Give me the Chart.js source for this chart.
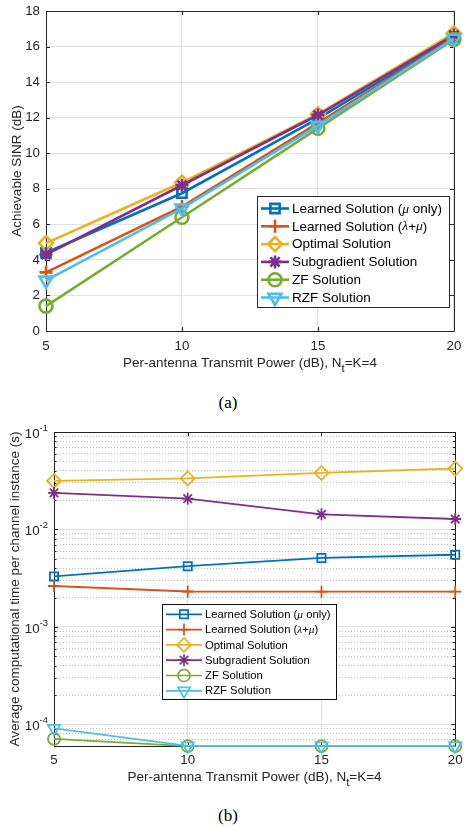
<!DOCTYPE html>
<html>
<head>
<meta charset="utf-8">
<script src="https://cdn.jsdelivr.net/npm/chart.js@4.4.0/dist/chart.umd.min.js"></script>
<style>
  body { margin: 0; background: #fff; width: 464px; height: 827px; position: relative; overflow: hidden; }
  canvas { position: absolute; left: 0; }
  #chartA { top: 0; }
  #chartB { top: 410px; }
  .cap { position: absolute; width: 464px; left: 0; text-align: center; font-family: "Liberation Serif", "Times New Roman", serif; font-size: 17px; color: #000; }
</style>
</head>
<body>
<canvas id="chartA" width="464" height="390"></canvas>
<div class="cap" style="top:393px; left:-4px;">(a)</div>
<canvas id="chartB" width="464" height="390"></canvas>
<div class="cap" style="top:806px; left:-4px;">(b)</div>
<script>
// x values shared by both panels
const powerDb = [5, 10, 15, 20];
const seriesNames = ['Learned Solution (\u03bc only)', 'Learned Solution (\u03bb+\u03bc)', 'Optimal Solution',
  'Subgradient Solution', 'ZF Solution', 'RZF Solution'];

// (a) achievable SINR in dB
const sinrLearnedMu = [4.4, 7.75, 11.95, 16.55];
const sinrLearnedLamMu = [3.3, 7.0, 11.7, 16.5];
const sinrOptimal = [4.94, 8.35, 12.2, 16.75];
const sinrSubgradient = [4.3, 8.2, 12.15, 16.65];
const sinrZF = [1.4, 6.4, 11.4, 16.4];
const sinrRZF = [2.85, 6.9, 11.55, 16.45];
const sinrTicks = [0, 2, 4, 6, 8, 10, 12, 14, 16, 18];

// (b) average computational time in seconds
const timeLearnedMu = [0.0033, 0.0042, 0.0051, 0.0055];
const timeLearnedLamMu = [0.00263, 0.00231, 0.0023, 0.0023];
const timeOptimal = [0.0315, 0.0334, 0.038, 0.0422];
const timeSubgradient = [0.0237, 0.0207, 0.0143, 0.0128];
const timeZF = [7.1e-5, 5.97e-5, 5.97e-5, 5.97e-5];
const timeRZF = [9.1e-5, 6.03e-5, 6.03e-5, 6.03e-5];
const timeDecades = [-5, -4, -3, -2, -1];

// styling (MATLAB default line colours)
const seriesColors = ['#0072BD', '#D95319', '#EDB120', '#7E2F8E', '#77AC30', '#4DBEEE'];
const markerStyles = ['rect', 'cross', 'rectRot', 'star', 'circle', 'triangle'];
const markerRot = [0, 0, 0, 0, 0, 180];
const SANS = '"Liberation Sans", Arial, sans-serif';
const CLEAR = 'rgba(0,0,0,0)';

function makeSets(table, lw, radii) {
  return table.map((vals, i) => ({
    label: seriesNames[i],
    data: powerDb.map((x, j) => ({ x: x, y: vals[j] })),
    borderColor: seriesColors[i],
    backgroundColor: CLEAR,
    borderWidth: lw,
    pointStyle: markerStyles[i],
    pointRotation: markerRot[i],
    pointRadius: radii[i],
    pointBorderWidth: lw,
    pointBorderColor: seriesColors[i],
    pointBackgroundColor: CLEAR,
    tension: 0,
    clip: false,
    order: 5 - i
  }));
}

function drawMarker(ctx, i, r, x, y, lw) {
  ctx.save();
  ctx.strokeStyle = seriesColors[i];
  ctx.fillStyle = CLEAR;
  ctx.lineWidth = lw;
  Chart.helpers.drawPoint(ctx, { pointStyle: markerStyles[i], rotation: markerRot[i], radius: r, borderWidth: lw }, x, y);
  ctx.restore();
}

// text with italic serif greek letters, like the MATLAB tex interpreter
function richText(ctx, str, x, y, size) {
  for (const ch of str) {
    ctx.font = /[\u03bb\u03bc]/.test(ch) ? 'italic ' + size + 'px "Liberation Serif", serif' : size + 'px ' + SANS;
    ctx.fillText(ch, x, y);
    x += ctx.measureText(ch).width;
  }
}

function drawLegend(chart, cfg) {
  const ctx = chart.ctx;
  ctx.save();
  ctx.fillStyle = '#fff';
  ctx.fillRect(cfg.x, cfg.y, cfg.w, cfg.h);
  ctx.strokeStyle = cfg.edge;
  ctx.lineWidth = 1;
  ctx.strokeRect(cfg.x + 0.5, cfg.y + 0.5, cfg.w, cfg.h);
  chart.data.datasets.forEach((ds, i) => {
    const y = cfg.row0 + i * cfg.step;
    ctx.strokeStyle = seriesColors[i];
    ctx.lineWidth = cfg.lw;
    ctx.beginPath();
    ctx.moveTo(cfg.l0, y);
    ctx.lineTo(cfg.l1, y);
    ctx.stroke();
    drawMarker(ctx, i, cfg.radii[i], (cfg.l0 + cfg.l1) / 2, y, cfg.lw);
    ctx.fillStyle = '#000';
    ctx.textBaseline = 'middle';
    ctx.textAlign = 'left';
    richText(ctx, ds.label, cfg.tx, y + 0.5, cfg.font);
  });
  ctx.restore();
}

function drawXTitle(ctx, cx, y, size, color) {
  const a = 'Per-antenna Transmit Power (dB), N', sub = 't', b = '=K=4';
  ctx.font = size + 'px ' + SANS;
  const wa = ctx.measureText(a).width, wb = ctx.measureText(b).width;
  ctx.font = (size - 2) + 'px ' + SANS;
  const ws = ctx.measureText(sub).width;
  let x = cx - (wa + ws + wb) / 2;
  ctx.fillStyle = color;
  ctx.textAlign = 'left';
  ctx.textBaseline = 'middle';
  ctx.font = size + 'px ' + SANS;
  ctx.fillText(a, x, y);
  x += wa;
  ctx.font = (size - 2) + 'px ' + SANS;
  ctx.fillText(sub, x, y + 6);
  x += ws;
  ctx.font = size + 'px ' + SANS;
  ctx.fillText(b, x, y);
}

function drawYTitle(ctx, x, cy, text, size, color) {
  ctx.save();
  ctx.translate(x, cy);
  ctx.rotate(-Math.PI / 2);
  ctx.font = size + 'px ' + SANS;
  ctx.fillStyle = color;
  ctx.textAlign = 'center';
  ctx.textBaseline = 'middle';
  ctx.fillText(text, 0, 0);
  ctx.restore();
}

// box and inward ticks on all four sides
function drawFrame(chart, color, tickLen, minorLen) {
  const { ctx, chartArea: a } = chart;
  const xs = chart.scales.x, ys = chart.scales.y;
  ctx.save();
  ctx.strokeStyle = color;
  ctx.lineWidth = 1;
  ctx.beginPath();
  ctx.rect(Math.round(a.left) + 0.5, Math.round(a.top) + 0.5, Math.round(a.right - a.left), Math.round(a.bottom - a.top));
  xs.ticks.forEach(t => {
    const px = Math.round(xs.getPixelForValue(t.value)) + 0.5;
    ctx.moveTo(px, a.bottom); ctx.lineTo(px, a.bottom - tickLen);
    ctx.moveTo(px, a.top); ctx.lineTo(px, a.top + tickLen);
  });
  ys.ticks.forEach(t => {
    const len = t.major === false ? minorLen : tickLen;
    const py = Math.round(ys.getPixelForValue(t.value)) + 0.5;
    ctx.moveTo(a.left, py); ctx.lineTo(a.left + len, py);
    ctx.moveTo(a.right, py); ctx.lineTo(a.right - len, py);
  });
  ctx.stroke();
  ctx.restore();
}

const radiiA = [6.5, 6.5, 7, 6.5, 6.5, 7.5];
const radiiB = [5.8, 6, 7, 6, 6, 7];

// ---------- panel (a) ----------
const panelA = {
  id: 'panelA',
  beforeDatasetsDraw(chart) { drawFrame(chart, '#262626', 4, 0); },
  afterDraw(chart) {
    const ctx = chart.ctx, a = chart.chartArea;
    const xs = chart.scales.x, ys = chart.scales.y;
    ctx.save();
    ctx.fillStyle = '#262626';
    ctx.font = '13.3px ' + SANS;
    ctx.textAlign = 'right';
    ctx.textBaseline = 'middle';
    sinrTicks.forEach(v => ctx.fillText(String(v), a.left - 6, ys.getPixelForValue(v)));
    ctx.textAlign = 'center';
    powerDb.forEach(v => ctx.fillText(String(v), xs.getPixelForValue(v), a.bottom + 15));
    drawXTitle(ctx, (a.left + a.right) / 2, a.bottom + 32, 13.5, '#262626');
    drawYTitle(ctx, 17, (a.top + a.bottom) / 2, 'Achievable SINR (dB)', 13.5, '#262626');
    ctx.restore();
    drawLegend(chart, { x: 257, y: 196, w: 192, h: 111, edge: '#262626', row0: 208.5, step: 17.8,
      l0: 261, l1: 289, tx: 292, font: 13.5, lw: 2.6, radii: radiiA });
  }
};

new Chart(document.getElementById('chartA'), {
  type: 'line',
  data: { datasets: makeSets([sinrLearnedMu, sinrLearnedLamMu, sinrOptimal, sinrSubgradient, sinrZF, sinrRZF], 2.6, radiiA) },
  options: {
    responsive: false,
    animation: false,
    layout: { padding: { left: 46, top: 11, right: 7, bottom: 59 } },
    plugins: { legend: { display: false }, tooltip: { enabled: false } },
    scales: {
      x: {
        type: 'linear', min: 5, max: 20,
        afterBuildTicks: s => { s.ticks = powerDb.map(v => ({ value: v })); },
        ticks: { display: false },
        grid: { color: '#e2e2e2', lineWidth: 1, drawTicks: false },
        border: { display: false }
      },
      y: {
        type: 'linear', min: 0, max: 18,
        afterBuildTicks: s => { s.ticks = sinrTicks.map(v => ({ value: v })); },
        ticks: { display: false },
        grid: { color: '#e2e2e2', lineWidth: 1, drawTicks: false },
        border: { display: false }
      }
    }
  },
  plugins: [panelA]
});

// ---------- panel (b) ----------
const timeMin = 6e-5, timeMax = 0.1;
function logTicks() {
  const out = [];
  timeDecades.forEach(e => {
    for (let m = 1; m <= 9; m++) {
      const v = m * Math.pow(10, e);
      if (v >= timeMin * 0.999 && v <= timeMax * 1.001) out.push({ value: v, major: m === 1 });
    }
  });
  return out;
}

const panelB = {
  id: 'panelB',
  beforeDatasetsDraw(chart) { drawFrame(chart, '#222', 4, 2.5); },
  afterDraw(chart) {
    const ctx = chart.ctx, a = chart.chartArea;
    const xs = chart.scales.x, ys = chart.scales.y;
    ctx.save();
    ctx.fillStyle = '#262626';
    ys.ticks.filter(t => t.major).forEach(t => {
      const py = ys.getPixelForValue(t.value);
      const exp = String(Math.round(Math.log10(t.value)));
      ctx.font = '9.5px ' + SANS;
      const we = ctx.measureText(exp).width;
      ctx.textBaseline = 'middle';
      ctx.textAlign = 'right';
      ctx.fillText(exp, a.left - 6, py - 4);
      ctx.font = '13.3px ' + SANS;
      ctx.fillText('10', a.left - 6 - we, py + 2);
    });
    ctx.font = '13.3px ' + SANS;
    ctx.textAlign = 'center';
    ctx.textBaseline = 'middle';
    powerDb.forEach(v => ctx.fillText(String(v), xs.getPixelForValue(v), a.bottom + 14));
    drawXTitle(ctx, (a.left + a.right) / 2, a.bottom + 31, 13.5, '#262626');
    drawYTitle(ctx, 15, (a.top + a.bottom) / 2, 'Average computational time per channel instance (s)', 13.5, '#262626');
    ctx.restore();
    drawLegend(chart, { x: 162, y: 194, w: 174, h: 95, edge: '#111', row0: 204.3, step: 15.3,
      l0: 166, l1: 202, tx: 205, font: 11.3, lw: 1.7, radii: radiiB });
  }
};

new Chart(document.getElementById('chartB'), {
  type: 'line',
  data: { datasets: makeSets([timeLearnedMu, timeLearnedLamMu, timeOptimal, timeSubgradient, timeZF, timeRZF], 1.8, radiiB) },
  options: {
    responsive: false,
    animation: false,
    layout: { padding: { left: 54, top: 22, right: 7, bottom: 54 } },
    plugins: { legend: { display: false }, tooltip: { enabled: false } },
    scales: {
      x: {
        type: 'linear', min: 5, max: 20,
        afterBuildTicks: s => { s.ticks = powerDb.map(v => ({ value: v })); },
        ticks: { display: false },
        grid: { color: '#e2e2e2', lineWidth: 1, drawTicks: false },
        border: { display: false }
      },
      y: {
        type: 'logarithmic', min: timeMin, max: timeMax,
        afterBuildTicks: s => { s.ticks = logTicks(); },
        ticks: { display: false },
        grid: {
          color: c => (c.tick && c.tick.major === false) ? '#bdbdbd' : '#e2e2e2',
          lineWidth: 1, drawTicks: false
        },
        border: {
          display: false,
          dash: c => (c.tick && c.tick.major === false) ? [1, 2] : [],
          dashOffset: 0
        }
      }
    }
  },
  plugins: [panelB]
});
</script>
</body>
</html>
